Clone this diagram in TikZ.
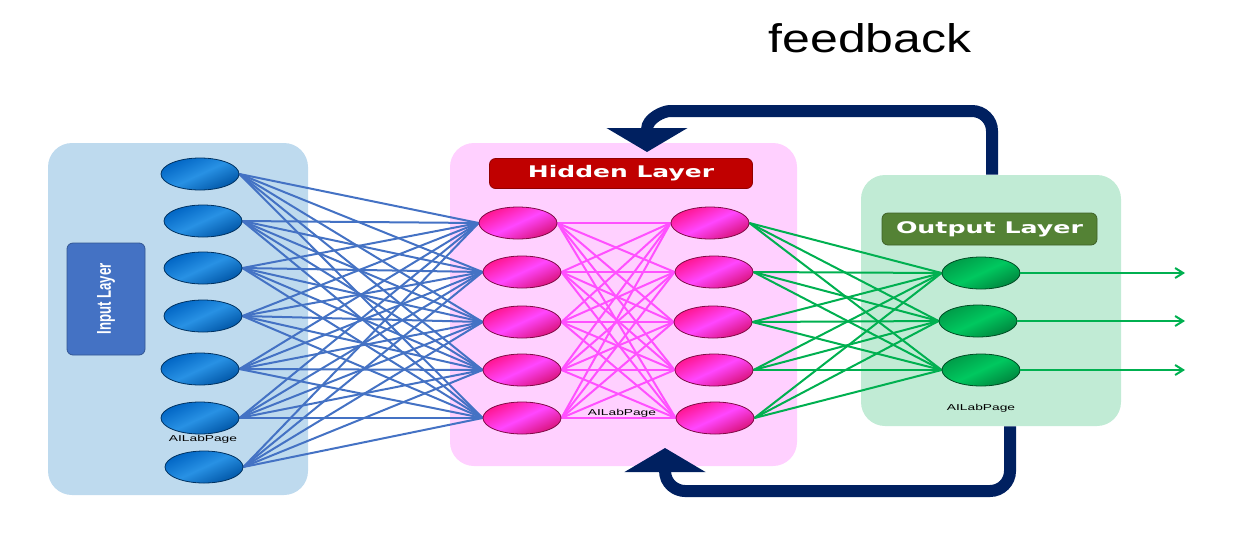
\documentclass[tikz,border=0pt]{standalone}
\usepackage{fontspec}
\setmainfont{Liberation Sans}
\newfontfamily\tagfont{DejaVu Sans}
\usetikzlibrary{arrows.meta,shapes.geometric}

\definecolor{inbg}{RGB}{190,218,238}
\definecolor{hidbg}{RGB}{255,208,255}
\definecolor{outbg}{RGB}{193,235,213}
\definecolor{intag}{RGB}{68,114,196}
\definecolor{hidtag}{RGB}{192,0,0}
\definecolor{outtag}{RGB}{84,130,53}
\definecolor{navy}{RGB}{0,32,96}
\definecolor{nblue}{RGB}{0,100,195}
\definecolor{nbluehi}{RGB}{40,145,228}
\definecolor{npink}{RGB}{255,20,140}
\definecolor{npinkhi}{RGB}{255,70,255}
\definecolor{ngreen}{RGB}{0,155,72}
\definecolor{ngreenhi}{RGB}{0,200,95}
\definecolor{wblue}{RGB}{68,114,196}
\definecolor{wpink}{RGB}{255,80,255}
\definecolor{wgreen}{RGB}{0,176,80}

\pgfdeclarelayer{back}
\pgfdeclarelayer{wires}
\pgfsetlayers{back,wires,main}

\begin{document}
\begin{tikzpicture}[x=0.5pt,y=-0.5pt,
		panel/.style={rounded corners=12pt,inner sep=0pt},
		tag/.style={rounded corners=3pt,fill=#1,draw=#1!75!black,inner sep=0pt,text=white},
		neuron/.style n args={2}{ellipse,minimum width=39pt,minimum height=16pt,inner sep=0pt,
			draw=#1!50!black,line width=0.4pt,left color=#1,right color=#1!85!black,
			middle color=#2,shading angle=25},
		wm/.style={font=\fontsize{4.3}{5}\selectfont},
		wire/.style={draw=#1,line width=1pt},
		fb/.style={draw=navy,line width=6pt,rounded corners=10pt,-{Triangle[width=40pt,length=12pt]}}]
	\useasboundingbox (0,0) rectangle (1240,552);
	
	% panels
	\begin{pgfonlayer}{back}
		\node[panel,fill=inbg,minimum width=130pt,minimum height=176pt] (inbox) at (178,319) {};
		\node[panel,fill=hidbg,minimum width=173.5pt,minimum height=161.5pt] (hidbox) at (623.5,304.5) {};
		\node[panel,fill=outbg,minimum width=130pt,minimum height=125.5pt] (outbox) at (991,300.5) {};
	\end{pgfonlayer}
	
	% layer tags
	\node[tag=intag,minimum width=39pt,minimum height=56pt] (intag) at (106,299) {};
	\node[rotate=90,text=white,font=\bfseries\fontsize{10}{12}\selectfont] at (intag) {\scalebox{0.66}[1]{Input Layer}};
	\node[tag=hidtag,minimum width=131.5pt,minimum height=15pt,font=\tagfont\bfseries\fontsize{8}{9}\selectfont] (hidtag) at (621,173.5) {\scalebox{1.56}[1]{Hidden Layer}};
	\node[tag=outtag,minimum width=107.5pt,minimum height=16pt,font=\tagfont\bfseries\fontsize{8}{9}\selectfont] (outtag) at (989.5,229) {\scalebox{1.58}[1]{Output Layer}};
	
	% neurons
	\foreach \x/\y [count=\i] in {200/174,203/221,203/268,203/316,200/369,200/418,204/467}
		\node[neuron={nblue}{nbluehi}] (in\i) at (\x,\y) {};
	\foreach \x/\y [count=\i] in {518/223,522/272,522/322,522/370,522/418}
		\node[neuron={npink}{npinkhi}] (ha\i) at (\x,\y) {};
	\foreach \x/\y [count=\i] in {710/223,714/272,713/322,714/370,715/418}
		\node[neuron={npink}{npinkhi}] (hb\i) at (\x,\y) {};
	\foreach \x/\y [count=\i] in {981/273,978/321,981/370}{
		\node[neuron={ngreen}{ngreenhi}] (out\i) at (\x,\y) {};
		\coordinate (res\i) at (1185,\y);
	}
	
	\node[wm] (wm1) at (203,439) {\scalebox{1.6}[1]{AILabPage}};
	\node[wm] (wm2) at (622,413) {\scalebox{1.6}[1]{AILabPage}};
	\node[wm] (wm3) at (981,408) {\scalebox{1.6}[1]{AILabPage}};
	
	% connections
	\begin{pgfonlayer}{wires}
		\foreach \i in {1,...,7}
			\foreach \j in {1,...,5}
				\draw[wire=wblue] (in\i.east) -- (ha\j.west);
		\foreach \i in {1,...,5}
			\foreach \j in {1,...,5}
				\draw[wire=wpink] (ha\i.east) -- (hb\j.west);
		\foreach \i in {1,...,5}
			\foreach \j in {1,...,3}
				\draw[wire=wgreen] (hb\i.east) -- (out\j.west);
	\end{pgfonlayer}
	\foreach \k in {1,2,3}
		\draw[wire=wgreen,-{Straight Barb[length=4pt,width=5pt]}] (out\k.east) -- (res\k);
	
	% feedback loop
	\coordinate (fbR) at (992,0);
	\coordinate (fbS) at (1010,0);
	\coordinate (fbin1) at (647,152);
	\coordinate (fbin2) at (665,448);
	\begin{pgfonlayer}{back}
		\draw[fb] (outbox.north -| fbR) -- (992,111) -- (690,111) .. controls (664,111) and (647,118) .. (fbin1);
		\draw[fb] (outbox.south -| fbS) -- (1010,491) -- (705,491) .. controls (676,491) and (665,484) .. (fbin2);
	\end{pgfonlayer}
	
	\node[font=\fontsize{20}{24}\selectfont,anchor=base] (fbtext) at (870,52) {\scalebox{1.25}[1]{feedback}};
\end{tikzpicture}
\end{document}
